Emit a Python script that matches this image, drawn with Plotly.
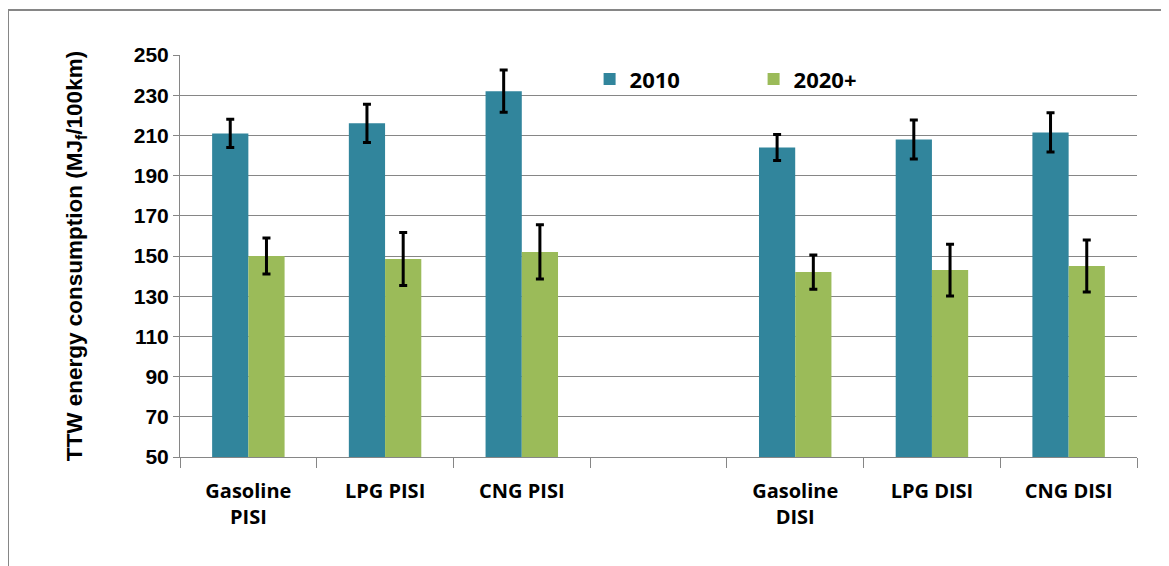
import plotly.graph_objects as go

categories = ["Gasoline<br>PISI", "LPG PISI", "CNG PISI", " ", "Gasoline<br>DISI", "LPG DISI", "CNG DISI"]
values_2010 = [211, 216, 232, None, 204, 208, 211.5]
err_2010 = [7, 9.5, 10.5, None, 6.5, 9.7, 9.8]
values_2020 = [150, 148.5, 152, None, 142, 143, 145]
err_2020 = [9, 13.2, 13.5, None, 8.5, 12.9, 12.9]
y_ticks = list(range(50, 251, 20))

TEAL = "#31859C"
GREEN = "#9BBB59"
FONT = "Liberation Sans"

fig = go.Figure()
fig.add_trace(go.Bar(
    name="2010", x=categories, y=values_2010, marker_color=TEAL,
    marker_line_width=0,
    error_y=dict(type="data", array=err_2010, color="black", thickness=3, width=4),
))
fig.add_trace(go.Bar(
    name="2020+", x=categories, y=values_2020, marker_color=GREEN,
    marker_line_width=0,
    error_y=dict(type="data", array=err_2020, color="black", thickness=3, width=4),
))

fig.update_layout(
    width=1161, height=558,
    margin=dict(l=172, r=32, t=47, b=109),
    paper_bgcolor="white", plot_bgcolor="white",
    barmode="group", bargap=0.47, bargroupgap=0,
    font=dict(family=FONT, color="black"),
    showlegend=True,
    legend=dict(
        orientation="h", x=0.428, y=0.94, xanchor="left", yanchor="middle",
        font=dict(family="Open Sans", size=22, weight="bold"),
        entrywidth=119, entrywidthmode="pixels", bgcolor="rgba(0,0,0,0)",
    ),
    xaxis=dict(
        type="category", showline=True, linecolor="#868686", linewidth=1,
        ticks="outside", ticklen=10, tickcolor="#868686", tickson="boundaries",
        showgrid=False, ticklabelstandoff=16,
        tickfont=dict(family="Open Sans", size=20, weight="bold"),
    ),
    yaxis=dict(
        range=[50, 250], tickvals=y_ticks, showgrid=True, gridcolor="#868686",
        gridwidth=1, showline=True, linecolor="#868686", linewidth=1,
        ticks="outside", ticklen=6, tickcolor="#868686",
        tickfont=dict(family=FONT, size=21, weight="bold"),
        title=dict(text="TTW energy consumption (MJ<sub>f</sub>/100km)",
                   font=dict(family=FONT, size=22.5, weight="bold"), standoff=44),
        zeroline=False,
    ),
    shapes=[dict(type="rect", xref="paper", yref="paper",
                 x0=-172/957, x1=1.2, y0=-0.5, y1=1 + 45/402,
                 line=dict(color="#868686", width=2), fillcolor="rgba(0,0,0,0)", layer="below")],
)

fig.write_html("out.html")
